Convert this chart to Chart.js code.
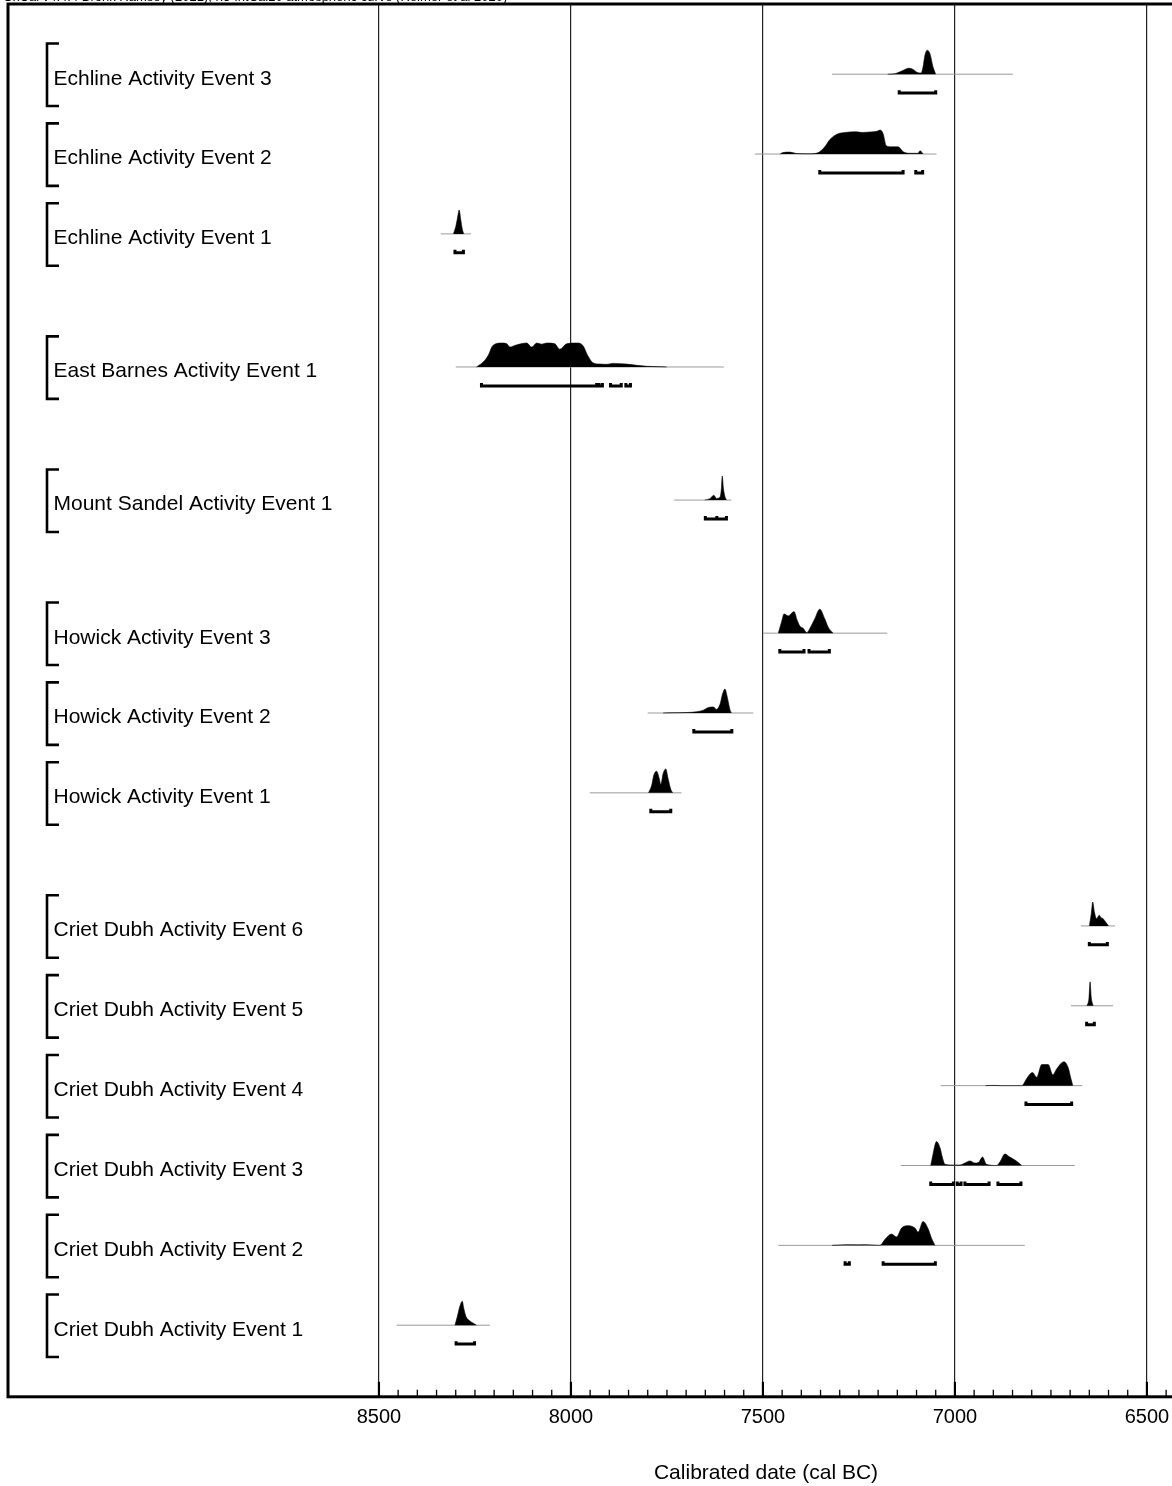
<!DOCTYPE html>
<html>
<head>
<meta charset="utf-8">
<script src="https://cdn.jsdelivr.net/npm/chart.js@4.4.1/dist/chart.umd.min.js"></script>
<style>
  html, body { margin: 0; padding: 0; background: #fff; overflow: hidden; }
  #wrap { position: relative; width: 1172px; height: 1486px; overflow: hidden; }
  #chart { position: absolute; left: 0; top: 0; }
</style>
</head>
<body>
<div id="wrap"><canvas id="chart" width="1530" height="1486"></canvas></div>
<script>
// rows, top to bottom
const labels = [
  'Echline Activity Event 3', 'Echline Activity Event 2', 'Echline Activity Event 1',
  'East Barnes Activity Event 1',
  'Mount Sandel Activity Event 1',
  'Howick Activity Event 3', 'Howick Activity Event 2', 'Howick Activity Event 1',
  'Criet Dubh Activity Event 6', 'Criet Dubh Activity Event 5', 'Criet Dubh Activity Event 4',
  'Criet Dubh Activity Event 3', 'Criet Dubh Activity Event 2', 'Criet Dubh Activity Event 1'
];

// extent of the thin line under each distribution (cal BC)
const extents = [
  [7320, 6849], [7521, 7048], [8339, 8260], [8300, 7602], [7731, 7582],
  [7499, 7176], [7800, 7525], [7951, 7712], [6672, 6583], [6698, 6588],
  [7037, 6668], [7141, 6688], [7460, 6818], [8454, 8211]
];

// posterior distributions: [year cal BC, relative probability]
const echline3 = [[7175,0],[7156,0.02],[7143,0.1],[7130,0.2],[7120,0.25],[7109,0.2],[7096,0.06],[7088,0.05],[7083,0.3],[7078,0.8],[7072,1],[7065,0.85],[7057,0.3],[7050,0]];
const echline2 = [[7455,0],[7448,0.06],[7430,0.08],[7412,0.02],[7378,0.01],[7357,0.05],[7339,0.3],[7326,0.6],[7307,0.83],[7286,0.9],[7260,0.93],[7242,0.9],[7221,0.92],[7203,0.95],[7195,1],[7187,0.85],[7179,0.35],[7164,0.3],[7148,0.3],[7135,0.1],[7117,0.03],[7096,0.03],[7091,0.14],[7083,0]];
const echline1 = [[8306,0],[8300,0.3],[8295,0.7],[8291,1],[8287,0.6],[8283,0.2],[8279,0]];
const eastBarnes1 = [[8246,0],[8229,0.2],[8216,0.47],[8203,0.9],[8180,1],[8167,0.97],[8159,0.83],[8146,0.9],[8115,1],[8102,0.83],[8089,1],[8076,0.95],[8063,1],[8042,0.97],[8029,0.74],[8011,0.97],[7985,1],[7969,0.9],[7956,0.47],[7943,0.18],[7924,0.12],[7907,0.11],[7891,0.15],[7855,0.12],[7829,0.07],[7803,0.03],[7768,0.01],[7751,0]];
const mountSandel1 = [[7651,0],[7638,0.06],[7628,0.2],[7621,0.07],[7612,0.12],[7608,0.5],[7606,1],[7603,0.5],[7599,0.15],[7595,0]];
const howick3 = [[7460,0],[7451,0.5],[7445,0.8],[7434,0.72],[7419,0.9],[7411,0.55],[7404,0.3],[7395,0.2],[7386,0.02],[7376,0.25],[7365,0.6],[7352,1],[7339,0.6],[7330,0.25],[7317,0]];
const howick2 = [[7760,0],[7734,0.01],[7699,0.02],[7673,0.05],[7655,0.12],[7642,0.23],[7629,0.25],[7621,0.15],[7612,0.35],[7605,0.8],[7599,1],[7592,0.6],[7586,0.15],[7582,0]];
const howick1 = [[7798,0],[7790,0.3],[7784,0.75],[7777,0.9],[7770,0.6],[7766,0.35],[7760,0.8],[7753,1],[7747,0.6],[7740,0.15],[7735,0]];
const crietDubh6 = [[6650,0],[6645,0.5],[6641,1],[6637,0.6],[6631,0.3],[6624,0.45],[6620,0.35],[6614,0.3],[6607,0.15],[6600,0]];
const crietDubh5 = [[6656,0],[6651,0.3],[6648,1],[6645,0.35],[6640,0]];
const crietDubh4 = [[6920,0],[6905,0.01],[6895,0.01],[6880,0],[6826,0],[6813,0.3],[6798,0.55],[6787,0.35],[6774,0.88],[6757,0.88],[6745,0.45],[6735,0.7],[6716,1],[6705,0.75],[6698,0.3],[6693,0]];
const crietDubh3 = [[7063,0],[7058,0.4],[7048,1],[7039,0.75],[7032,0.3],[7026,0.05],[7004,0.02],[6987,0.02],[6974,0.1],[6961,0.19],[6948,0.1],[6939,0.12],[6928,0.35],[6918,0.05],[6891,0],[6881,0.2],[6870,0.48],[6857,0.35],[6841,0.2],[6826,0]];
const crietDubh2 = [[7320,0],[7308,0.01],[7282,0.03],[7256,0.02],[7232,0.03],[7210,0.01],[7195,0],[7182,0.25],[7165,0.47],[7152,0.35],[7139,0.72],[7122,0.82],[7104,0.72],[7096,0.55],[7083,1],[7070,0.7],[7061,0.3],[7052,0]];
const crietDubh1 = [[8302,0],[8296,0.35],[8289,0.8],[8283,1],[8279,0.7],[8273,0.35],[8265,0.2],[8254,0.08],[8246,0]];

const distributions = [echline3, echline2, echline1, eastBarnes1, mountSandel1, howick3, howick2, howick1,
  crietDubh6, crietDubh5, crietDubh4, crietDubh3, crietDubh2, crietDubh1];

// 95.4% ranges (from, to) cal BC
const ranges = [
  [[7145, 7050]],
  [[7352, 7135], [7102, 7084]],
  [[8302, 8280]],
  [[8233, 7933], [7927, 7918], [7897, 7869], [7857, 7845]],
  [[7650, 7620], [7620, 7595]],
  [[7456, 7393], [7380, 7327]],
  [[7680, 7581]],
  [[7792, 7740]],
  [[6650, 6603]],
  [[6657, 6637]],
  [[6815, 6696]],
  [[7063, 7004], [6994, 6984], [6974, 6911], [6888, 6828]],
  [[7286, 7275], [7187, 7051]],
  [[8299, 8251]]
];

// axis: labelled years and minor tick step
const majorTicks = [8500, 8000, 7500, 7000, 6500, 6000];
const minorStep = 50;

const axisTitle = 'Calibrated date (cal BC)';
const header = 'OxCal v4.4.4 Bronk Ramsey (2021); r:5 IntCal20 atmospheric curve (Reimer et al 2020)';

const FONT = "'Liberation Sans', Arial, Helvetica, sans-serif";
Chart.defaults.font.family = FONT;
Chart.defaults.color = '#000';

// tick list: every 50 years from the first labelled year onwards
const tickValues = [];
for (let t = majorTicks[0]; t > majorTicks[majorTicks.length - 1] - 500; t -= minorStep) tickValues.push(t);
const isMajor = v => majorTicks.includes(v);

// row slots: 3 units per row, 2 extra between sites
const site = l => l.replace(/ Activity Event \d+$/, '');
const rowPos = [];
labels.forEach((l, i) => {
  if (i === 0) rowPos.push(0);
  else rowPos.push(rowPos[i - 1] + 3 + (site(l) !== site(labels[i - 1]) ? 2 : 0));
});

const H = 0.9;      // peak height in slot units
const datasets = [];
labels.forEach((l, i) => {
  const v = rowPos[i];
  const base = v - 0.07;
  datasets.push({
    data: extents[i].map(x => ({x, y: base})),
    borderColor: '#9a9a9a', borderWidth: 1, pointRadius: 0, fill: false, order: 3
  });
  datasets.push({
    data: distributions[i].map(([x, p]) => ({x, y: base - p * H})),
    borderColor: '#000', borderWidth: 0.6, backgroundColor: '#000',
    fill: {value: base}, pointRadius: 0, tension: 0.4, cubicInterpolationMode: 'monotone', order: 2
  });
  const br = [];
  ranges[i].forEach(([a, b]) => {
    br.push({x: a, y: v + 0.53}, {x: a, y: v + 0.64}, {x: b, y: v + 0.64}, {x: b, y: v + 0.53}, {x: b, y: null});
  });
  datasets.push({
    data: br, borderColor: '#000', borderWidth: 3, pointRadius: 0, fill: false,
    tension: 0, spanGaps: false, borderJoinStyle: 'miter', borderCapStyle: 'butt', order: 1
  });
});

const decor = {
  id: 'decor',
  afterDraw(chart) {
    const {ctx, chartArea: a, scales: {x, y}} = chart;
    ctx.save();
    // tick marks pointing into the plot
    ctx.strokeStyle = '#000';
    x.ticks.forEach(t => {
      const px = x.getPixelForValue(t.value);
      const major = isMajor(t.value);
      ctx.lineWidth = major ? 2.2 : 1.3;
      ctx.beginPath();
      ctx.moveTo(px, a.bottom - (major ? 15 : 7));
      ctx.lineTo(px, a.bottom);
      ctx.stroke();
    });
    // frame
    ctx.lineWidth = 3;
    ctx.strokeRect(a.left, a.top, a.right - a.left, a.bottom - a.top);
    // row labels with brackets
    ctx.font = '21px ' + FONT;
    ctx.fillStyle = '#000';
    ctx.textBaseline = 'alphabetic';
    ctx.lineWidth = 2.6;
    labels.forEach((l, i) => {
      const py = y.getPixelForValue(rowPos[i]);
      const bx = a.left + 39;
      ctx.beginPath();
      ctx.moveTo(bx + 12, py - 32.5);
      ctx.lineTo(bx, py - 32.5);
      ctx.lineTo(bx, py + 30);
      ctx.lineTo(bx + 12, py + 30);
      ctx.stroke();
      ctx.fillText(l, a.left + 45.5, py + 8.5);
    });
    // header (mostly above the visible area)
    ctx.font = '13px ' + FONT;
    ctx.fillText(header, 3, 0.5);
    ctx.restore();
  }
};

new Chart(document.getElementById('chart'), {
  type: 'line',
  data: {datasets},
  options: {
    responsive: false,
    animation: false,
    devicePixelRatio: 1,
    layout: {padding: {left: 8, top: 4, right: 6, bottom: 0}},
    plugins: {legend: {display: false}, tooltip: {enabled: false}},
    scales: {
      x: {
        type: 'linear',
        reverse: true,
        min: 5518,
        max: 9466,
        afterBuildTicks: s => { s.ticks = tickValues.map(value => ({value})); },
        border: {display: false},
        grid: {
          color: c => (c.tick && isMajor(c.tick.value)) ? '#222' : 'rgba(0,0,0,0)',
          lineWidth: 1.2,
          drawTicks: false
        },
        ticks: {
          autoSkip: false,
          maxRotation: 0,
          padding: 9,
          font: {size: 20},
          color: '#000',
          callback: v => (isMajor(v) ? String(v) : '')
        },
        title: {
          display: true,
          text: axisTitle,
          font: {size: 21},
          color: '#000',
          padding: {top: 22, bottom: 0}
        }
      },
      y: {
        type: 'linear',
        display: false,
        reverse: true,
        min: -2.707,
        max: 49.62
      }
    }
  },
  plugins: [decor]
});
</script>
</body>
</html>
